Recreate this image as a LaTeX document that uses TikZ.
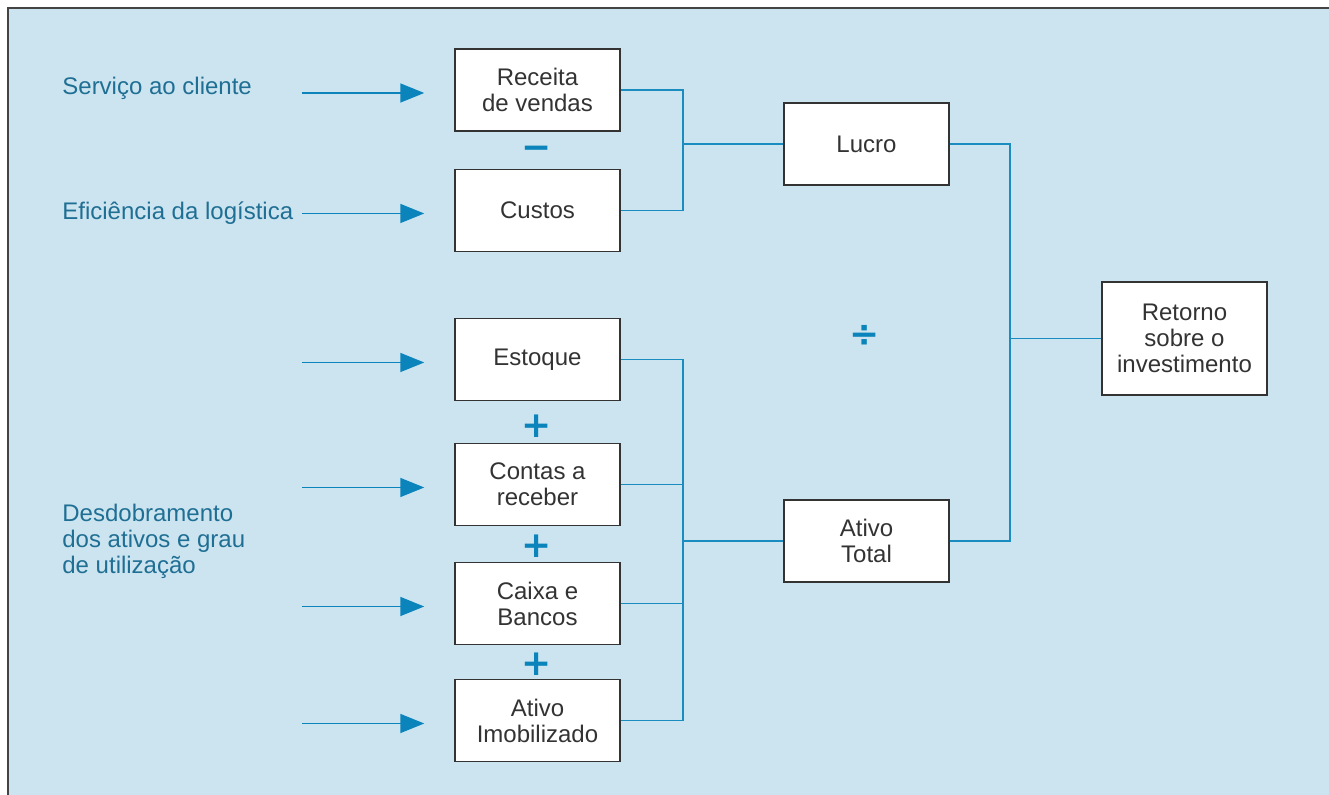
\documentclass[tikz,border=0pt]{standalone}
\usepackage{fontspec}
\setmainfont{Liberation Sans}
\newfontfamily\opfont{DejaVu Sans}
\usetikzlibrary{arrows.meta}
\definecolor{panelbg}{HTML}{CCE4EF}
\definecolor{linkblue}{HTML}{1A8CC0}
\definecolor{opblue}{HTML}{0A84BB}
\definecolor{labelteal}{HTML}{1F6F94}
\definecolor{ink}{HTML}{333333}
\definecolor{framegray}{HTML}{444444}
\tikzset{
  box/.style={draw=ink,line width=.75pt,fill=white,align=center,inner sep=0pt,
    minimum width=82.5pt,minimum height=41pt,font=\fontsize{12}{13}\selectfont,text=ink},
  link/.style={draw=linkblue,line width=.85pt},
  feed/.style={-{Triangle[length=12pt,width=9.5pt]},draw=opblue,fill=opblue,
    line width=.8pt,shorten >=15pt},
  sidelabel/.style={anchor=west,align=left,text=labelteal,inner sep=0pt,
    font=\fontsize{12}{13}\selectfont},
  oper/.style={text=opblue,inner sep=0pt,font=\opfont\bfseries\fontsize{18}{18}\selectfont},
}

\begin{document}
\begin{tikzpicture}[x=.5pt,y=-.5pt]
\useasboundingbox (0,0) rectangle (1329,795);
\clip (0,0) rectangle (1329,795);
\fill[panelbg] (8,8) rectangle (1340,805);
\draw[framegray,line width=1pt] (8,805) -- (8,8) -- (1340,8);
% left column
\node[box] (rec) at (537.5,90) {Receita\\de vendas};
\node[box] (cus) at (537.5,210.5) {Custos};
\node[box] (est) at (537.5,359.5) {Estoque};
\node[box] (con) at (537.5,484.5) {Contas a\\receber};
\node[box] (cai) at (537.5,603.5) {Caixa e\\Bancos};
\node[box] (imo) at (537.5,720.5) {Ativo\\Imobilizado};
% middle and right
\node[box] (luc) at (866.5,144) {Lucro};
\node[box] (tot) at (866.5,541) {Ativo\\Total};
\node[box,minimum height=56.5pt] (ret) at (1184.5,338.5) {Retorno\\sobre o\\investimento};
% operators
\node[oper] (minus) at (537,153) {−};
\node[oper] (plus1) at (537,426) {+};
\node[oper] (plus2) at (537,546) {+};
\node[oper] (plus3) at (537,664) {+};
\node[oper] (divide) at (865,336) {÷};
% drivers
\node[sidelabel] (serv) at (62,88) {Serviço ao cliente};
\node[sidelabel] (efic) at (62,213) {Eficiência da logística};
\node[sidelabel] (desd) at (62,541) {Desdobramento\\dos ativos e grau\\de utilização};
\foreach \b in {rec,cus,est,con,cai,imo}{
  \coordinate (\b-in) at ([xshift=-76pt,yshift=-1.5pt]\b.west);
  \draw[feed] (\b-in) -- ([yshift=-1.5pt]\b.west);
}
% brackets
\coordinate (j1) at (683,144);
\coordinate (j2) at (683,541);
\coordinate (j3) at (1010,338.5);
\foreach \a/\b in {rec/j1,cus/j1,est/j2,con/j2,cai/j2,imo/j2,luc/j3,tot/j3}\draw[link] (\a.east) -| (\b);
\draw[link] (j1) -- (luc.west);
\draw[link] (j2) -- (tot.west);
\draw[link] (j3) -- (ret.west);
\end{tikzpicture}
\end{document}
